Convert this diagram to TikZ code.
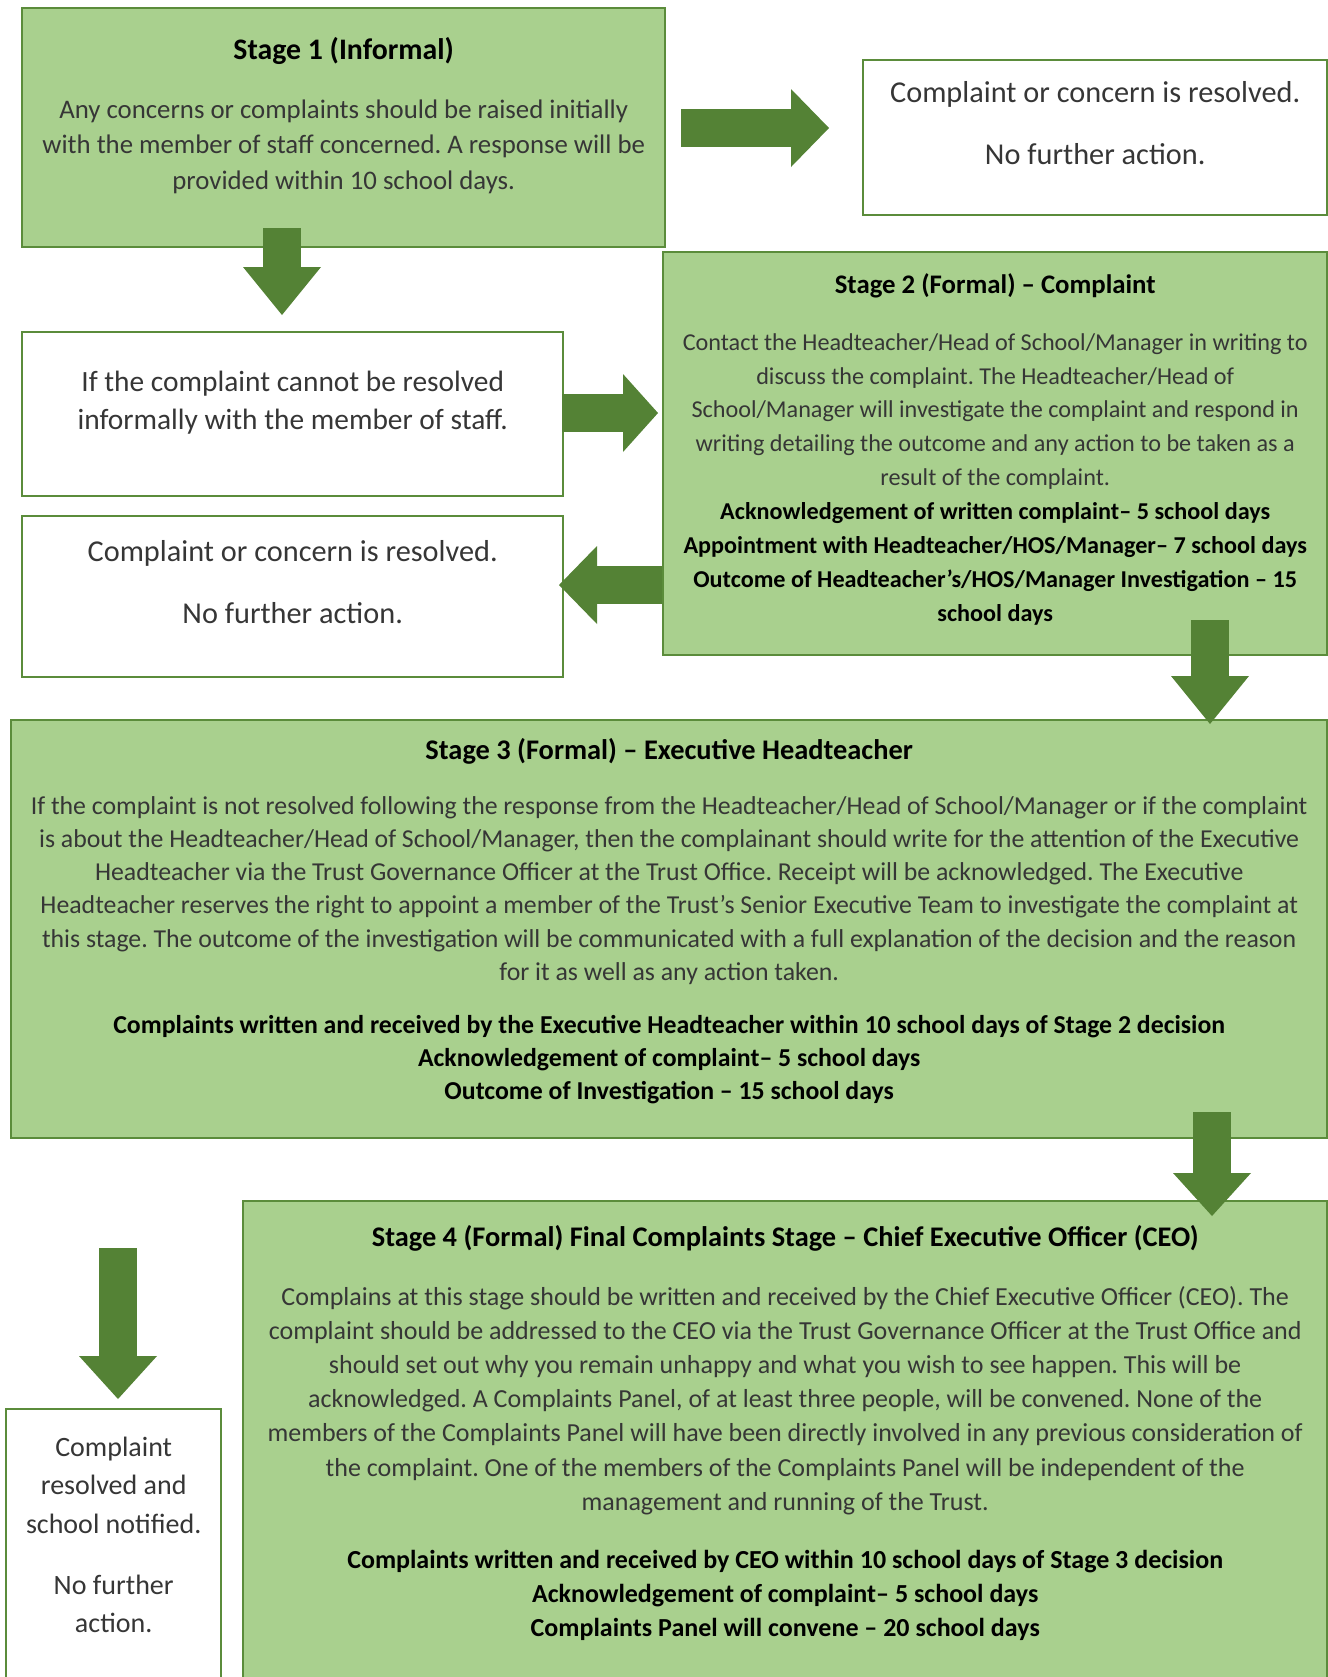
\documentclass[tikz,border=0pt]{standalone}
\usepackage{fontspec}
\setmainfont{Carlito}
\usetikzlibrary{arrows.meta}
\frenchspacing

\definecolor{boxfill}{HTML}{A9D08E}
\definecolor{boxline}{HTML}{5B8C3B}
\definecolor{arrowgreen}{HTML}{548235}
\definecolor{bodytext}{HTML}{363636}

% box text: width, height, top space, font size, line skip, text
\newcommand{\boxtext}[6]{\begin{minipage}[t][#2][t]{#1}\fontsize{#4}{#5}\selectfont\centering\vspace*{#3}\strut#6\end{minipage}}
\newcommand{\hd}[1]{\textbf{\color{black}#1}}
\newcommand{\ttl}[2]{{\fontsize{#1}{#1}\selectfont\hd{#2}}}

\tikzset{
  stagebox/.style={draw=boxline, fill=boxfill, line width=1.2pt, inner sep=0pt, anchor=north west, text=bodytext},
  endbox/.style={draw=boxline, fill=white, line width=1.2pt, inner sep=0pt, anchor=north west, text=bodytext},
  bigarrow/.style={draw=arrowgreen, line width=19pt, -{Triangle[length=#1, width=39pt, line width=0pt]}},
  bigarrow/.default=21pt
}

\begin{document}
\begin{tikzpicture}[x=0.5pt, y=-0.5pt, line join=miter]
\useasboundingbox (0,0) rectangle (1328,1677);

%Stage 1
\node[stagebox] (s1) at (21,7) {\boxtext{321.5pt}{119.5pt}{13.1pt}{13.4pt}{17.75pt}{%
\ttl{14.9pt}{Stage 1 (Informal)}\\[11.75pt]
Any concerns or complaints should be raised initially\\
with the member of staff concerned. A response will be\\
provided within 10 school days.}};
\node[endbox] (res1) at (862,59) {\boxtext{232pt}{77.5pt}{7.7pt}{15.15pt}{19pt}{%
Complaint or concern is resolved.\\[12pt]
No further action.}};
\node[endbox] (cant) at (21,331) {\boxtext{270.5pt}{82pt}{16.2pt}{14.7pt}{19pt}{%
If the complaint cannot be resolved\\
informally with the member of staff.}};

%Stage 2
\node[stagebox] (s2) at (662,251) {\boxtext{332pt}{201.5pt}{8.6pt}{12.1pt}{16.95pt}{%
\ttl{13.4pt}{Stage 2 (Formal) – Complaint}\\[11.55pt]
Contact the Headteacher/Head of School/Manager in writing to\\
discuss the complaint. The Headteacher/Head of\\
School/Manager will investigate the complaint and respond in\\
writing detailing the outcome and any action to be taken as a\\
result of the complaint.\\
\hd{Acknowledgement of written complaint– 5 school days}\\
\hd{Appointment with Headteacher/HOS/Manager– 7 school days}\\
\hd{Outcome of Headteacher’s/HOS/Manager Investigation – 15}\\
\hd{school days}}};
\node[endbox] (res2) at (21,515) {\boxtext{270.5pt}{80.5pt}{9.2pt}{15.15pt}{19pt}{%
Complaint or concern is resolved.\\[12pt]
No further action.}};

%Stage 3
\node[stagebox] (s3) at (10,719) {\boxtext{658pt}{209pt}{7.9pt}{12.9pt}{16.6pt}{%
\ttl{14.2pt}{Stage 3 (Formal) – Executive Headteacher}\\[10.9pt]
If the complaint is not resolved following the response from the Headteacher/Head of School/Manager or if the complaint\\
is about the Headteacher/Head of School/Manager, then the complainant should write for the attention of the Executive\\
Headteacher via the Trust Governance Officer at the Trust Office. Receipt will be acknowledged. The Executive\\
Headteacher reserves the right to appoint a member of the Trust’s Senior Executive Team to investigate the complaint at\\
this stage. The outcome of the investigation will be communicated with a full explanation of the decision and the reason\\
for it as well as any action taken.\\[9.9pt]
\hd{Complaints written and received by the Executive Headteacher within 10 school days of Stage 2 decision}\\
\hd{Acknowledgement of complaint– 5 school days}\\
\hd{Outcome of Investigation – 15 school days}}};

%Stage 4
\node[stagebox] (s4) at (242,1200) {\boxtext{542pt}{250pt}{10.5pt}{13pt}{17.1pt}{%
\ttl{14.2pt}{Stage 4 (Formal) Final Complaints Stage – Chief Executive Officer (CEO)}\\[12.4pt]
Complains at this stage should be written and received by the Chief Executive Officer (CEO). The\\
complaint should be addressed to the CEO via the Trust Governance Officer at the Trust Office and\\
should set out why you remain unhappy and what you wish to see happen. This will be\\
acknowledged. A Complaints Panel, of at least three people, will be convened. None of the\\
members of the Complaints Panel will have been directly involved in any previous consideration of\\
the complaint. One of the members of the Complaints Panel will be independent of the\\
management and running of the Trust.\\[11.9pt]
\hd{Complaints written and received by CEO within 10 school days of Stage 3 decision}\\
\hd{Acknowledgement of complaint– 5 school days}\\
\hd{Complaints Panel will convene – 20 school days}}};
\node[endbox] (res4) at (5,1408) {\boxtext{107.5pt}{146pt}{10pt}{14pt}{19.25pt}{%
Complaint\\
resolved and\\
school notified.\\[11.25pt]
No further\\
action.}};

%arrows
\coordinate (s1-r) at (681,128);
\coordinate (res1-in) at (829,128);
\coordinate (s1-d) at (282,228);
\coordinate (cant-in) at (282,315);
\coordinate (cant-r) at (562,413);
\coordinate (s2-in) at (658,413);
\coordinate (s2-l) at (662,585);
\coordinate (res2-in) at (559,585);
\coordinate (s2-d) at (1210,620);
\coordinate (s3-in) at (1210,724);
\coordinate (s3-d) at (1212,1112);
\coordinate (s4-in) at (1212,1216);
\coordinate (left-d) at (118,1248);
\coordinate (res4-in) at (118,1399);

\draw[bigarrow=19pt] (s1-r) -- (res1-in);
\draw[bigarrow=24pt] (s1-d) -- (cant-in);
\draw[bigarrow=17.5pt] (cant-r) -- (s2-in);
\draw[bigarrow=19pt] (s2-l) -- (res2-in);
\draw[bigarrow=24pt] (s2-d) -- (s3-in);
\draw[bigarrow=21.5pt] (s3-d) -- (s4-in);
\draw[bigarrow=21.5pt] (left-d) -- (res4-in);
\end{tikzpicture}
\end{document}
